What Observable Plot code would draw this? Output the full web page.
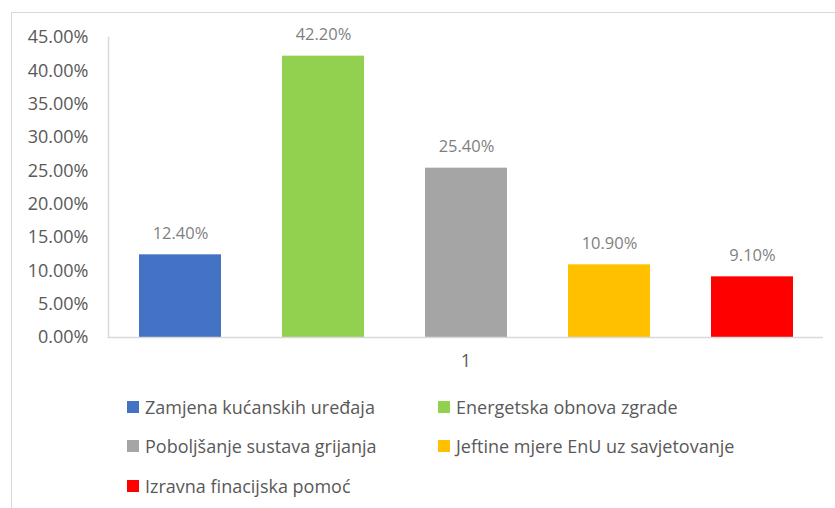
<!DOCTYPE html>
<html>
<head>
<meta charset="utf-8">
<script src="https://cdn.jsdelivr.net/npm/d3@7"></script>
<script src="https://cdn.jsdelivr.net/npm/@observablehq/plot@0.6"></script>
<style>
  html, body { margin: 0; padding: 0; background: #fff; }
  body { position: relative; width: 835px; height: 508px; overflow: hidden; font-family: "Open Sans", sans-serif; }
  #border { position: absolute; left: 11px; top: 12px; width: 840px; height: 520px; border: 1.5px solid #d9d9d9; box-sizing: border-box; }
  #chart { position: absolute; left: 0; top: 0; }
  #legend { position: absolute; left: 127px; top: 387px; display: grid; grid-template-columns: 311px 311px; grid-auto-rows: 39.5px; }
  .item { display: flex; align-items: center; font-size: 18px; color: #595959; white-space: nowrap; }
  .sw { width: 12px; height: 12px; margin-right: 6px; flex: none; }
</style>
</head>
<body>
<div id="border"></div>
<div id="chart"></div>
<div id="legend"></div>
<script>
// Survey results: share of respondents per measure
const groups = ["1"];
const names = [
  "Zamjena kućanskih uređaja",
  "Energetska obnova zgrade",
  "Poboljšanje sustava grijanja",
  "Jeftine mjere EnU uz savjetovanje",
  "Izravna finacijska pomoć"
];
const values = [12.4, 42.2, 25.4, 10.9, 9.1];
const colors = ["#4472C4", "#92D050", "#A5A5A5", "#FFC000", "#FF0000"];
const yTicks = [0, 5, 10, 15, 20, 25, 30, 35, 40, 45];

const data = names.map((name, i) => ({group: groups[0], name, value: values[i]}));
const pct = v => v.toFixed(2) + "%";

const chart = Plot.plot({
  width: 835,
  height: 380,
  marginLeft: 108,
  marginRight: 12,
  marginTop: 37,
  marginBottom: 43,
  style: {fontFamily: "Open Sans", fontSize: "18px", color: "#595959", background: "transparent"},
  fx: {domain: groups, axis: "bottom", padding: 0, tickSize: 0, tickPadding: 17, label: null},
  x: {domain: names, axis: null, paddingInner: 0.43, paddingOuter: 0.2},
  y: {domain: [0, 45], ticks: yTicks, tickFormat: pct, tickSize: 0, tickPadding: 20, label: null},
  color: {domain: names, range: colors},
  marks: [
    Plot.frame({anchor: "left", stroke: "#d9d9d9", strokeWidth: 1.5}),
    Plot.barY(data, {fx: "group", x: "name", y: "value", fill: "name"}),
    Plot.ruleY([0], {stroke: "#d9d9d9", strokeWidth: 1.5}),
    Plot.text(data, {fx: "group", x: "name", y: "value", text: d => pct(d.value), dy: -21, fill: "#7f7f7f", fontSize: 16.5})
  ]
});
document.getElementById("chart").appendChild(chart);

// Legend in two columns below the plot
const legend = d3.select("#legend");
names.forEach((name, i) => {
  const item = legend.append("div").attr("class", "item");
  item.append("span").attr("class", "sw").style("background", colors[i]);
  item.append("span").text(name);
});
</script>
</body>
</html>
